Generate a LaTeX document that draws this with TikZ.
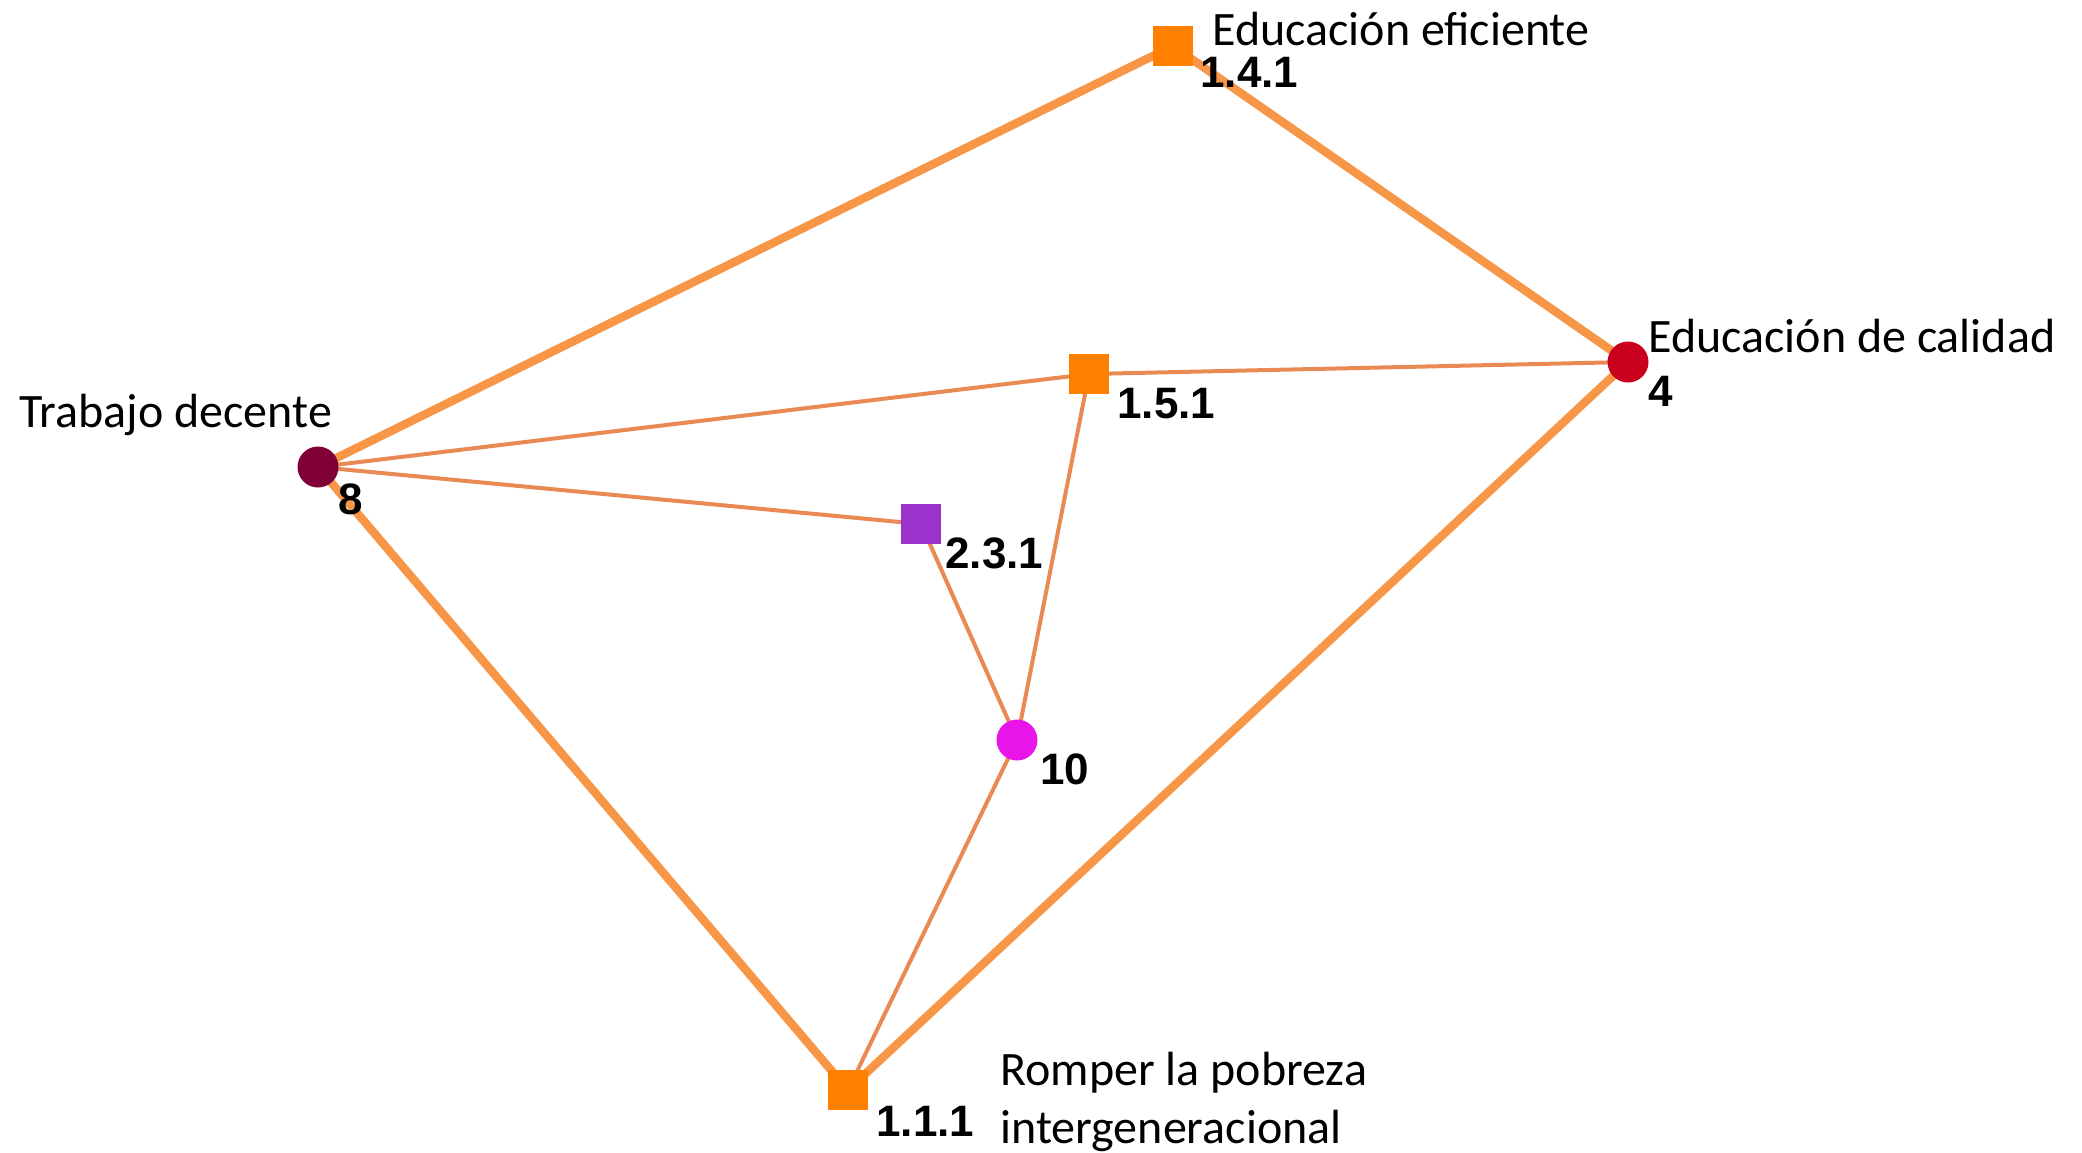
\documentclass[tikz,border=0pt]{standalone}
\usepackage{fontspec}
\setmainfont{Carlito}
\newfontfamily\numfont{Liberation Sans}
\usetikzlibrary{backgrounds}
\definecolor{thickedge}{HTML}{F79646}
\definecolor{thinedge}{HTML}{E98A55}
\definecolor{sqorange}{HTML}{FF8000}
\definecolor{maroonc}{HTML}{800038}
\definecolor{redc}{HTML}{C8001E}
\definecolor{magc}{HTML}{E815E8}
\definecolor{purplec}{HTML}{9933CC}
\tikzset{
  sqnode/.style={rectangle, inner sep=0pt, minimum size=20pt, draw=none},
  cinode/.style={circle, inner sep=0pt, minimum size=20.5pt, draw=none},
  bigedge/.style={draw=thickedge, line width=4.2pt},
  smalledge/.style={draw=thinedge, line width=2pt},
  lbl/.style={anchor=base west, inner sep=0pt, font=\fontsize{24pt}{29pt}\selectfont},
  numlbl/.style={anchor=base west, inner sep=0pt, font=\numfont\bfseries\fontsize{22pt}{26pt}\selectfont}
}
\begin{document}
\begin{tikzpicture}[x=0.5pt,y=-0.5pt]
\useasboundingbox (0,0) rectangle (2082,1152);
\node[sqnode, fill=sqorange] (n141) at (1173,46) {};
\node[sqnode, fill=sqorange] (n151) at (1089,374) {};
\node[sqnode, fill=purplec] (n231) at (921,524) {};
\node[sqnode, fill=sqorange] (n111) at (848,1090) {};
\node[cinode, fill=maroonc] (n8) at (318,467) {};
\node[cinode, fill=redc] (n4) at (1628,362) {};
\node[cinode, fill=magc] (n10) at (1017,740) {};
\begin{scope}[on background layer]
\draw[bigedge] (n8.center) -- (n141.center);
\draw[bigedge] (n141.center) -- (n4.center);
\draw[bigedge] (n8.center) -- (n111.center);
\draw[bigedge] (n4.center) -- (n111.center);
\draw[smalledge] (n8.center) -- (n151.center);
\draw[smalledge] (n151.center) -- (n4.center);
\draw[smalledge] (n8.center) -- (n231.center);
\draw[smalledge] (n231.center) -- (n10.center);
\draw[smalledge] (n151.center) -- (n10.center);
\draw[smalledge] (n10.center) -- (n111.center);
\end{scope}
\node[lbl] (t141) at (1212,45) {Educación eficiente};
\node[lbl] (t8) at (19,427) {Trabajo decente};
\node[lbl] (t4) at (1648,352) {Educación de calidad};
\node[lbl] (t111a) at (1000,1085) {Romper la pobreza};
\node[lbl] (t111b) at (1000,1143) {intergeneracional};
\node[numlbl] (l141) at (1200,87) {1.4.1};
\node[numlbl] (l8) at (338,514) {8};
\node[numlbl] (l4) at (1648,406) {4};
\node[numlbl] (l151) at (1117,418) {1.5.1};
\node[numlbl] (l231) at (945,568) {2.3.1};
\node[numlbl] (l10) at (1040,784) {10};
\node[numlbl] (l111) at (876,1136) {1.1.1};
\end{tikzpicture}
\end{document}
